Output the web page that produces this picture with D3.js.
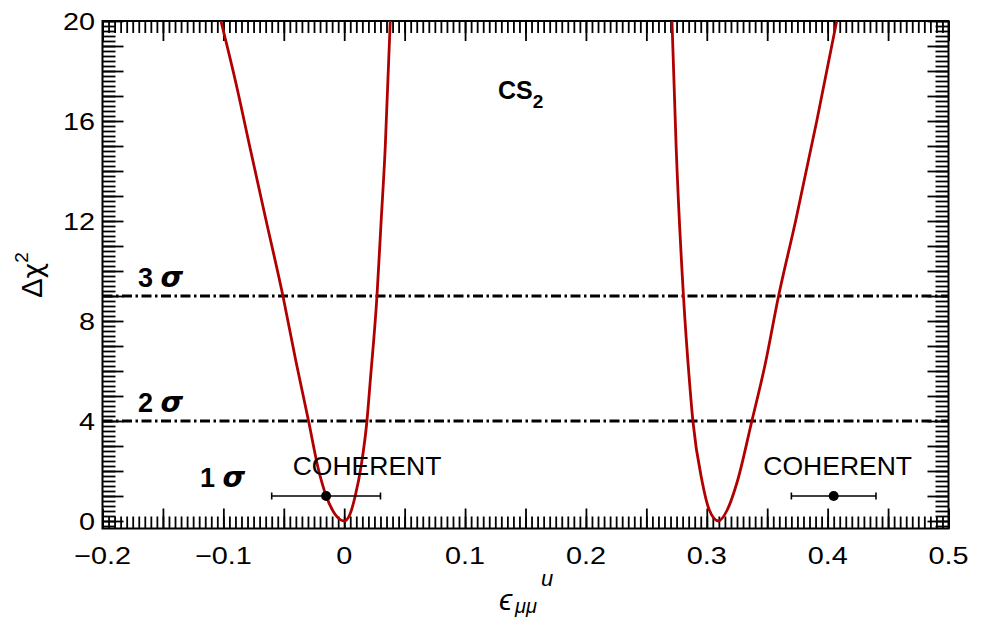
<!DOCTYPE html>
<html>
<head>
<meta charset="utf-8">
<script src="https://cdn.jsdelivr.net/npm/d3@7/dist/d3.min.js"></script>
<style>
  html, body { margin: 0; padding: 0; background: #fff; }
  svg { display: block; }
  text { font-family: "Liberation Sans", Arial, Helvetica, sans-serif; fill: #000; }
</style>
</head>
<body>
<svg id="chart" width="990" height="624"></svg>
<script>
// Δχ² profile for ε_μμ^u (CS2), two minima
const curveAx   = [-0.1020, -0.0900, -0.0778, -0.0650, -0.0507, -0.0400, -0.0295, -0.0210, -0.0149, -0.0080, 0.0000, 0.0045, 0.0091, 0.0140, 0.0188, 0.0215, 0.0271, 0.0305, 0.0339, 0.0381];
const curveAchi = [20, 17.6, 14.9, 12.1, 9.0, 6.4, 4.0, 2.0, 1.0, 0.3, 0, 0.24, 1.0, 2.2, 4.0, 5.57, 9.0, 11.95, 14.9, 20];
const curveBx   = [0.2712, 0.2747, 0.2807, 0.2857, 0.2885, 0.2962, 0.3020, 0.3097, 0.3170, 0.3252, 0.3373, 0.3480, 0.3594, 0.3735, 0.3910, 0.4075];
const curveBchi = [20, 14.9, 9.0, 5.57, 4.0, 1.57, 0.45, 0, 0.45, 1.57, 4.0, 6.2, 9.0, 12.0, 16.0, 20];

// confidence levels drawn as dash-dot lines and their labels
const sigmaLines  = [4, 9];
const sigmaLevels = [1, 4, 9];
const sigmaNames  = ["1", "2", "3"];

// COHERENT best fits with 1σ ranges
const cohX   = [-0.015, 0.405];
const cohErr = [0.045, 0.035];
const cohY   = [1, 1];

// axis labels
const xTickLabels = [-0.2, -0.1, 0, 0.1, 0.2, 0.3, 0.4, 0.5];
const yTickLabels = [0, 4, 8, 12, 16, 20];

const svg = d3.select("#chart");
const L = 102.5, R = 948.5, T = 21, B = 528.5;

const x = d3.scaleLinear().domain([-0.2, 0.5]).range([L, R]);
const y = d3.scaleLinear().domain([-0.3, 20]).range([B, T]);

const round = v => Math.round(v * 1e6) / 1e6;
const xMajor = d3.range(-0.2, 0.5 + 1e-9, 0.05).map(round);
const xMinor = d3.range(-0.2, 0.5 + 1e-9, 0.005).map(round);
const yMajor = d3.range(0, 20 + 1e-9, 1).map(round);
const yMinor = d3.range(-0.2, 20 + 1e-9, 0.2).map(round);

// tick combs on all four sides, pointing inward
function comb(axisFn, scale, values, size, tx, ty) {
  const g = svg.append("g")
    .attr("transform", `translate(${tx},${ty})`)
    .call(axisFn(scale).tickValues(values).tickSize(-size).tickFormat(""));
  g.select(".domain").remove();
  g.selectAll(".tick line").attr("stroke", "#000").attr("stroke-width", 1.8);
}
comb(d3.axisBottom, x, xMinor, 12, 0, B);
comb(d3.axisBottom, x, xMajor, 20, 0, B);
comb(d3.axisTop, x, xMinor, 12, 0, T);
comb(d3.axisTop, x, xMajor, 20, 0, T);
comb(d3.axisLeft, y, yMinor, 13, L, 0);
comb(d3.axisLeft, y, yMajor, 21, L, 0);
comb(d3.axisRight, y, yMinor, 13, R, 0);
comb(d3.axisRight, y, yMajor, 21, R, 0);

// frame
svg.append("rect")
  .attr("x", L).attr("y", T).attr("width", R - L).attr("height", B - T)
  .attr("fill", "none").attr("stroke", "#000").attr("stroke-width", 2);

// tick labels
const fmt = v => (v < 0 ? "\u2212" : "") + Math.abs(v).toString();
svg.append("g").selectAll("text").data(xTickLabels).join("text")
  .attr("transform", d => `translate(${x(d)},564) scale(1.2,1)`)
  .attr("text-anchor", "middle")
  .attr("font-size", 24)
  .text(fmt);
svg.append("g").selectAll("text").data(yTickLabels).join("text")
  .attr("transform", d => `translate(95,${y(d)}) scale(1.2,1)`)
  .attr("text-anchor", "end")
  .attr("dy", "0.36em")
  .attr("font-size", 24)
  .text(fmt);

// axis titles
const ytitle = svg.append("text")
  .attr("transform", "translate(42,275) rotate(-90)")
  .attr("text-anchor", "middle")
  .attr("font-size", 29);
ytitle.append("tspan").text("\u0394");
ytitle.append("tspan").attr("font-family", "DejaVu Sans, sans-serif").attr("font-size", 27).text("\u03c7");
ytitle.append("tspan").attr("font-size", 19).attr("dy", -14).text("2");

svg.append("text").attr("x", 499).attr("y", 610)
  .attr("font-size", 30).attr("font-style", "italic")
  .attr("font-family", "DejaVu Sans, sans-serif").text("\u03f5");
svg.append("text").attr("x", 515).attr("y", 613)
  .attr("font-size", 20).attr("font-style", "italic").text("\u03bc\u03bc");
svg.append("text").attr("x", 541).attr("y", 586)
  .attr("font-size", 22).attr("font-style", "italic").text("u");

// clip for the curves
svg.append("clipPath").attr("id", "plot")
  .append("rect").attr("x", L).attr("y", T).attr("width", R - L).attr("height", B - T);

// dash-dot confidence lines
svg.append("g").selectAll("line").data(sigmaLines).join("line")
  .attr("x1", L).attr("x2", R)
  .attr("y1", d => y(d)).attr("y2", d => y(d))
  .attr("stroke", "#000").attr("stroke-width", 3)
  .attr("stroke-dasharray", "10,3.5,2.5,3.5");

// sigma labels
svg.append("g").selectAll("text").data(sigmaLevels).join("text")
  .attr("x", (d, i) => i === 0 ? 200 : 138)
  .attr("y", d => y(d) - 9)
  .attr("font-size", 27).attr("font-weight", "bold")
  .each(function (d, i) {
    const t = d3.select(this);
    t.append("tspan").text(sigmaNames[i] + " ");
    t.append("tspan").attr("font-style", "italic")
      .attr("font-family", "DejaVu Sans, sans-serif").attr("font-size", 29).text("\u03c3");
  });

// Δχ² curves
const line = d3.line().x(d => x(d[0])).y(d => y(d[1])).curve(d3.curveMonotoneX);
const curves = [d3.zip(curveAx, curveAchi), d3.zip(curveBx, curveBchi)];
svg.append("g").attr("clip-path", "url(#plot)")
  .selectAll("path").data(curves).join("path")
  .attr("d", line)
  .attr("fill", "none").attr("stroke", "#b00000").attr("stroke-width", 2.8);

// COHERENT points with horizontal error bars, label above each
const labelDx = [41, 4];
const coh = svg.append("g");
cohX.forEach((cx, i) => {
  const yy = y(cohY[i]);
  const x0 = x(cx - cohErr[i]), x1 = x(cx + cohErr[i]);
  coh.append("line").attr("x1", x0).attr("x2", x1).attr("y1", yy).attr("y2", yy)
    .attr("stroke", "#000").attr("stroke-width", 1.6);
  [x0, x1].forEach(xe => coh.append("line")
    .attr("x1", xe).attr("x2", xe).attr("y1", yy - 3.5).attr("y2", yy + 3.5)
    .attr("stroke", "#000").attr("stroke-width", 1.6));
  coh.append("circle").attr("cx", x(cx)).attr("cy", yy).attr("r", 5).attr("fill", "#000");
  coh.append("text").attr("x", x(cx) + labelDx[i]).attr("y", 475)
    .attr("text-anchor", "middle").attr("font-size", 26.5).text("COHERENT");
});

// target label
const cs = svg.append("text").attr("x", 498).attr("y", 99)
  .attr("font-size", 25).attr("font-weight", "bold");
cs.append("tspan").text("CS");
cs.append("tspan").attr("font-size", 19).attr("dy", 9).text("2");
</script>
</body>
</html>
